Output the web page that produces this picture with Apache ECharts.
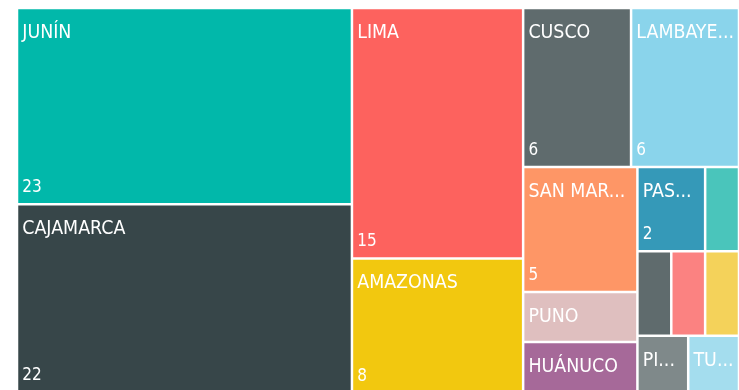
<!DOCTYPE html>
<html>
<head>
<meta charset="utf-8">
<script src="https://cdn.jsdelivr.net/npm/echarts@6/dist/echarts.min.js"></script>
<style>
  html, body { margin: 0; padding: 0; background: #fff; }
  #chart { width: 739px; height: 390px; }
</style>
</head>
<body>
<div id="chart"></div>
<script>
// Cases per department
const departamentos = ['JUNÍN', 'CAJAMARCA', 'LIMA', 'AMAZONAS', 'CUSCO', 'LAMBAYEQUE', 'SAN MARTÍN', 'PUNO',
  'HUÁNUCO', 'PASCO', 'AYACUCHO', 'ÁNCASH', 'LA LIBERTAD', 'UCAYALI', 'PIURA', 'TUMBES'];
const casos = [23, 22, 15, 8, 6, 6, 5, 2, 2, 2, 1, 1, 1, 1, 1, 1];

// Tile palette, one per department
const colores = ['#01B8AA', '#374649', '#FD625E', '#F2C80F', '#5F6B6D', '#8AD4EB', '#FE9666', '#DFBFBF',
  '#A66999', '#3599B8', '#4AC5BB', '#5F6B6D', '#FB8281', '#F4D25A', '#7F898A', '#A4DDEE'];

// Block arrangement (indices into the arrays above); nested lists keep the
// smaller departments grouped in the right-hand panel
const bloques = [0, 1, 2, 3, [4, 5, [6, 7, 8], [9, 10, 11, 12, 13, 14, 15]]];

const FONT = '"DejaVu Sans Condensed", "DejaVu Sans", sans-serif';
const NAME_SIZE = 19.4;
const VALUE_SIZE = 17;
const BORDER = 1.25;
const PAD = [13, 3.45, 4, 4];
const NAME_LH = 21;
const VALUE_LH = 19;

// Shorten a name with "..." so that it fits the tile width
const measureCtx = document.createElement('canvas').getContext('2d');
function textWidth(t) {
  measureCtx.font = NAME_SIZE + 'px ' + FONT;
  return measureCtx.measureText(t).width;
}
function fitText(text, maxWidth) {
  if (textWidth(text) <= maxWidth) return text;
  for (let n = text.length - 1; n > 0; n--) {
    const t = text.slice(0, n).trimEnd() + '...';
    if (textWidth(t) <= maxWidth) return t;
  }
  return '';
}

function leafLabel(name, value, size) {
  if (!size) return { show: false };
  const w = size.width - 2 * BORDER;
  const h = size.height - 2 * BORDER;
  const shown = w < 40 ? '' : fitText(name, w - PAD[1] - PAD[3]);
  if (!shown) return { show: false };
  if (h < 70) {
    return { show: true, formatter: '{n|' + shown + '}' };
  }
  const gap = Math.max(Math.floor(h - PAD[0] - PAD[2] - NAME_LH - VALUE_LH) - 1, 0);
  return {
    show: true,
    formatter: '{n|' + shown + '}\n{s|}\n{v|' + value + '}',
    rich: { s: { lineHeight: gap, height: gap } }
  };
}

function buildNode(entry, sizes) {
  if (Array.isArray(entry)) {
    return {
      name: '',
      children: entry.map(e => buildNode(e, sizes)),
      itemStyle: { borderWidth: 0, gapWidth: 0, borderColor: '#fff' }
    };
  }
  const name = departamentos[entry];
  return {
    name: name,
    value: casos[entry],
    itemStyle: { color: colores[entry], borderWidth: BORDER, borderColor: '#fff' },
    label: leafLabel(name, casos[entry], sizes && sizes[name])
  };
}

function buildOption(sizes) {
  return {
    animation: false,
    series: [{
      type: 'treemap',
      left: 17,
      top: 8,
      width: 722,
      height: 384,
      sort: false,
      squareRatio: 1.7,
      roam: false,
      nodeClick: false,
      breadcrumb: { show: false },
      itemStyle: { borderWidth: 0, gapWidth: 0, borderColor: '#fff' },
      label: {
        show: true,
        position: 'insideTopLeft',
        distance: 0,
        padding: PAD,
        color: '#fff',
        overflow: 'none',
        fontFamily: FONT,
        fontSize: NAME_SIZE,
        rich: {
          n: { fontSize: NAME_SIZE, lineHeight: NAME_LH, fontFamily: FONT, color: '#fff' },
          s: { lineHeight: 1 },
          v: { fontSize: VALUE_SIZE, lineHeight: VALUE_LH, fontFamily: FONT, color: '#fff' }
        }
      },
      emphasis: { disabled: true },
      data: bloques.map(e => buildNode(e, sizes))
    }]
  };
}

const chart = echarts.init(document.getElementById('chart'), null, { renderer: 'canvas' });
chart.setOption(buildOption(null));

// Read the tile sizes computed by the treemap layout to place the values at the bottom
const sizes = {};
const tree = chart.getModel().getSeriesByIndex(0).getData().tree;
tree.eachNode(node => {
  if (!node.children || !node.children.length) {
    const l = node.getLayout();
    if (l) sizes[node.name] = { width: l.width, height: l.height };
  }
});
chart.setOption(buildOption(sizes), true);
</script>
</body>
</html>
